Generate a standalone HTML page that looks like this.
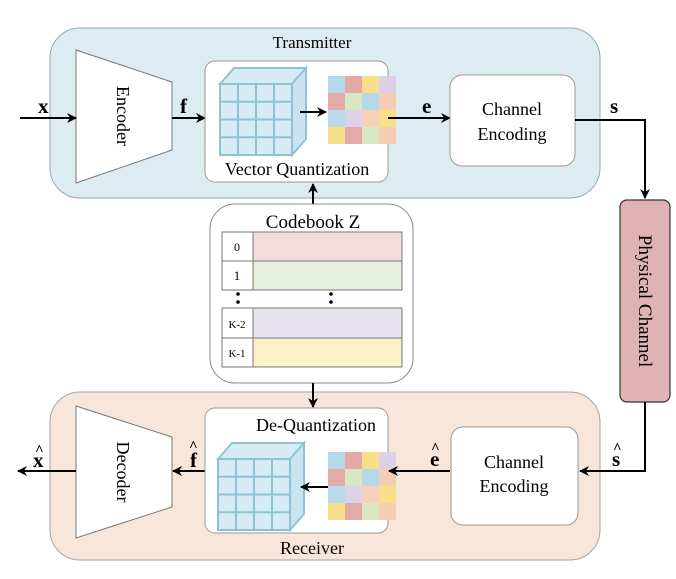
<!DOCTYPE html>
<html><head><meta charset="utf-8"><style>
html,body{margin:0;padding:0;background:#fff;}
svg{display:block;font-family:"Liberation Serif",serif;}
</style></head><body>
<svg width="676" height="579" viewBox="0 0 676 579" xmlns="http://www.w3.org/2000/svg">
<defs>
<marker id="ah" markerWidth="10" markerHeight="10" refX="9" refY="5" orient="auto" markerUnits="userSpaceOnUse">
<path d="M0,0 L10,5 L0,10 L3,5 Z" fill="#000"/></marker>
<g id="cgrid">
<rect x="0" y="0" width="17" height="17" fill="#b5d9e8"/><rect x="17" y="0" width="17" height="17" fill="#e3a9a6"/><rect x="34" y="0" width="17" height="17" fill="#f7df8a"/><rect x="51" y="0" width="17" height="17" fill="#dccfe6"/>
<rect x="0" y="17" width="17" height="17" fill="#e3aaa8"/><rect x="17" y="17" width="17" height="17" fill="#d8e6c4"/><rect x="34" y="17" width="17" height="17" fill="#b5d9e8"/><rect x="51" y="17" width="17" height="17" fill="#f5cdb5"/>
<rect x="0" y="34" width="17" height="17" fill="#bcdbea"/><rect x="17" y="34" width="17" height="17" fill="#ddd2e8"/><rect x="34" y="34" width="17" height="17" fill="#f6d0b8"/><rect x="51" y="34" width="17" height="17" fill="#f7df8a"/>
<rect x="0" y="51" width="17" height="17" fill="#f7df8a"/><rect x="17" y="51" width="17" height="17" fill="#e2aaa8"/><rect x="34" y="51" width="17" height="17" fill="#d8e6c4"/><rect x="51" y="51" width="17" height="17" fill="#f5cdb5"/>
</g>
<g id="cube" stroke="#8ec3d6" stroke-width="2" fill="#d6ebf3">
<path d="M0,16 L14,0 L86,0 L72,16 Z"/>
<path d="M72,16 L86,0 L86,71 L72,87 Z" fill="#c9e4ef"/>
<rect x="0" y="16" width="72" height="71"/>
<path d="M18,16 V87 M36,16 V87 M54,16 V87 M0,33.75 H72 M0,51.5 H72 M0,69.25 H72" fill="none"/>
</g>
</defs>

<!-- Transmitter panel -->
<rect x="50" y="28" width="550" height="170" rx="30" fill="#dcecf2" stroke="#9aa7ad" stroke-width="1"/>
<text x="312" y="48" font-size="17" text-anchor="middle">Transmitter</text>
<path d="M76,50 L172,82 L172,150 L76,183 Z" fill="#fff" stroke="#777" stroke-width="1"/>
<text transform="translate(117,116) rotate(90)" font-size="18" text-anchor="middle">Encoder</text>
<line x1="20" y1="118" x2="76" y2="118" stroke="#000" stroke-width="2" marker-end="url(#ah)"/>
<text x="38" y="113" font-size="21" font-weight="bold">x</text>
<line x1="172" y1="118" x2="205" y2="118" stroke="#000" stroke-width="2" marker-end="url(#ah)"/>
<text x="180" y="113" font-size="21" font-weight="bold">f</text>
<rect x="205" y="61" width="183" height="121" rx="10" fill="#fff" stroke="#999"/>
<use href="#cube" x="220" y="68"/>
<use href="#cgrid" x="328" y="76"/>
<line x1="300" y1="112" x2="326" y2="112" stroke="#000" stroke-width="2" marker-end="url(#ah)"/>
<text x="297" y="175" font-size="18" text-anchor="middle">Vector Quantization</text>
<line x1="388" y1="118" x2="450" y2="118" stroke="#000" stroke-width="2" marker-end="url(#ah)"/>
<text x="422" y="113" font-size="21" font-weight="bold">e</text>
<rect x="450" y="75" width="125" height="91" rx="12" fill="#fff" stroke="#999"/>
<text x="512" y="115" font-size="18" text-anchor="middle">Channel</text>
<text x="512" y="140" font-size="18" text-anchor="middle">Encoding</text>
<polyline points="575,120 645,120 645,198" fill="none" stroke="#000" stroke-width="2" marker-end="url(#ah)"/>
<text x="610" y="113" font-size="21" font-weight="bold">s</text>

<!-- Physical channel -->
<rect x="620" y="200" width="50" height="202" rx="7" fill="#dfb3b3" stroke="#333" stroke-width="1.2"/>
<text transform="translate(639,301) rotate(90)" font-size="19" text-anchor="middle">Physical Channel</text>

<!-- Codebook -->
<line x1="313" y1="204" x2="313" y2="184" stroke="#000" stroke-width="2" marker-end="url(#ah)"/>
<rect x="210" y="204" width="203" height="179" rx="25" fill="#fff" stroke="#888"/>
<text x="313" y="228" font-size="19" text-anchor="middle">Codebook Z</text>
<g stroke="#777" stroke-width="1">
<rect x="222" y="232" width="31" height="29" fill="#fff"/><rect x="253" y="232" width="149" height="29" fill="#f2dcdc"/>
<rect x="222" y="261" width="31" height="29" fill="#fff"/><rect x="253" y="261" width="149" height="29" fill="#e6efdc"/>
<rect x="222" y="308" width="31" height="30" fill="#fff"/><rect x="253" y="308" width="149" height="30" fill="#e7e3ef"/>
<rect x="222" y="338" width="31" height="29" fill="#fff"/><rect x="253" y="338" width="149" height="29" fill="#fbf0c8"/>
</g>
<text x="237" y="251" font-size="12" text-anchor="middle">0</text>
<text x="237" y="280" font-size="13" text-anchor="middle">1</text>
<text x="237" y="328" font-size="11" text-anchor="middle">K-2</text>
<text x="237" y="357" font-size="11" text-anchor="middle">K-1</text>
<circle cx="238" cy="294" r="1.8"/><circle cx="238" cy="302" r="1.8"/>
<circle cx="331" cy="294" r="1.8"/><circle cx="331" cy="302" r="1.8"/>

<!-- Receiver panel -->
<rect x="50" y="392" width="550" height="168" rx="30" fill="#f8e6da" stroke="#a9a39d" stroke-width="1"/>
<line x1="313" y1="383" x2="313" y2="407" stroke="#000" stroke-width="2" marker-end="url(#ah)"/>
<polyline points="645,402 645,471 580,471" fill="none" stroke="#000" stroke-width="2" marker-end="url(#ah)"/>
<text x="612" y="466" font-size="21" font-weight="bold">s</text>
<text x="613" y="453" font-size="15" font-weight="bold">^</text>
<text x="312" y="554" font-size="18" text-anchor="middle">Receiver</text>
<path d="M76,406 L172,437 L172,507 L76,538 Z" fill="#fff" stroke="#777" stroke-width="1"/>
<text transform="translate(117,472) rotate(90)" font-size="18" text-anchor="middle">Decoder</text>
<line x1="76" y1="471" x2="18" y2="471" stroke="#000" stroke-width="2" marker-end="url(#ah)"/>
<text x="33" y="467" font-size="21" font-weight="bold">x</text>
<text x="35" y="455" font-size="15" font-weight="bold">^</text>
<line x1="205" y1="471" x2="173" y2="471" stroke="#000" stroke-width="2" marker-end="url(#ah)"/>
<text x="190" y="467" font-size="21" font-weight="bold">f</text>
<text x="189" y="451" font-size="15" font-weight="bold">^</text>
<rect x="205" y="408" width="183" height="125" rx="10" fill="#fff" stroke="#999"/>
<text x="316" y="431" font-size="18" text-anchor="middle">De-Quantization</text>
<use href="#cube" x="218" y="443"/>
<use href="#cgrid" x="328" y="452"/>
<line x1="328" y1="487" x2="301" y2="487" stroke="#000" stroke-width="2" marker-end="url(#ah)"/>
<line x1="450" y1="471" x2="389" y2="471" stroke="#000" stroke-width="2" marker-end="url(#ah)"/>
<text x="430" y="466" font-size="21" font-weight="bold">e</text>
<text x="431" y="453" font-size="15" font-weight="bold">^</text>
<rect x="451" y="427" width="127" height="98" rx="12" fill="#fff" stroke="#999"/>
<text x="514" y="468" font-size="18" text-anchor="middle">Channel</text>
<text x="514" y="492" font-size="18" text-anchor="middle">Encoding</text>
</svg>
</body></html>
